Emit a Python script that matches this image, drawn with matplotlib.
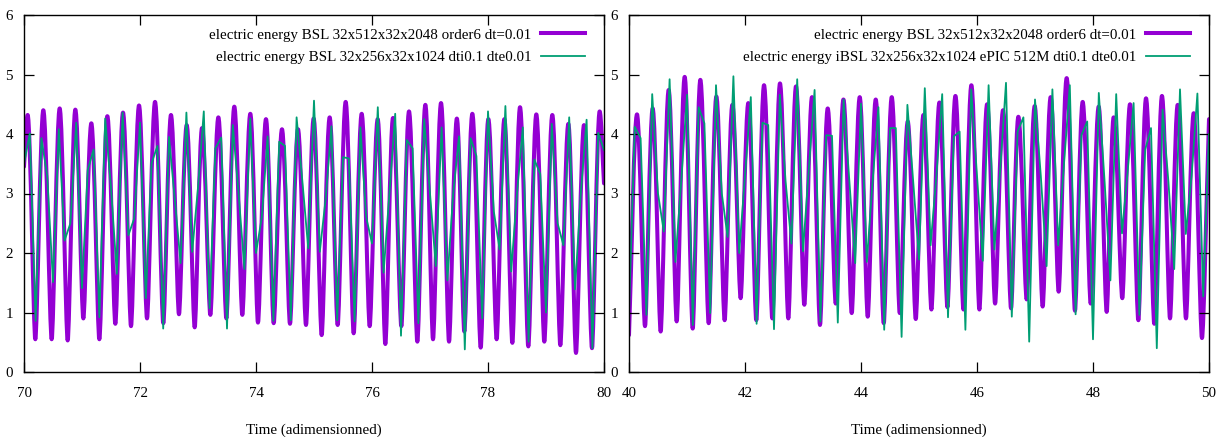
import numpy as np
import matplotlib
matplotlib.use("Agg")
import matplotlib.pyplot as plt
from matplotlib.path import Path
from matplotlib.patches import PathPatch
from matplotlib.lines import Line2D

plt.rcParams['font.family'] = ['Liberation Serif', 'DejaVu Serif']

# ---------------- data ----------------
label_ref = "electric energy BSL 32x512x32x2048 order6 dt=0.01"
label_left = "electric energy BSL 32x256x32x1024 dti0.1 dte0.01"
label_right = "electric energy iBSL 32x256x32x1024 ePIC 512M dti0.1 dte0.01"
x_label = "Time (adimensionned)"

left_xticks = [70, 72, 74, 76, 78, 80]
right_xticks = [40, 42, 44, 46, 48, 50]
yticks = [0, 1, 2, 3, 4, 5, 6]

# reference run (dt=0.01): turning points (time, value)
left_ref_t = [70.0, 70.063, 70.195, 70.333, 70.477, 70.615, 70.753, 70.885, 71.023, 71.161,
              71.299, 71.437, 71.575, 71.707, 71.845, 71.983, 72.121, 72.259, 72.402, 72.534,
              72.672, 72.805, 72.943, 73.069, 73.213, 73.351, 73.489, 73.626, 73.764, 73.902,
              74.034, 74.172, 74.305, 74.448, 74.586, 74.724, 74.862, 74.994, 75.132, 75.270,
              75.408, 75.546, 75.684, 75.822, 75.960, 76.098, 76.230, 76.362, 76.506, 76.638,
              76.782, 76.920, 77.052, 77.190, 77.328, 77.463, 77.592, 77.730, 77.874, 78.006,
              78.149, 78.282, 78.420, 78.552, 78.695, 78.833, 78.971, 79.109, 79.247, 79.385,
              79.517, 79.655, 79.793, 79.925, 80.0]
left_ref_v = [3.45, 4.32, 0.55, 4.40, 0.55, 4.43, 0.53, 4.41, 0.90, 4.18,
              0.55, 4.30, 0.81, 4.36, 0.77, 4.48, 0.90, 4.54, 0.82, 4.32,
              0.97, 4.15, 0.75, 4.10, 0.96, 4.28, 0.90, 4.46, 0.96, 4.34,
              0.83, 4.25, 0.82, 4.08, 0.81, 4.08, 0.79, 4.26, 0.62, 4.28,
              0.79, 4.54, 0.65, 4.34, 0.77, 4.25, 0.47, 4.27, 0.77, 4.38,
              0.51, 4.49, 0.55, 4.52, 0.51, 4.26, 0.68, 4.34, 0.41, 4.25,
              0.55, 4.25, 0.49, 4.45, 0.43, 4.33, 0.51, 4.32, 0.45, 4.17,
              0.32, 4.15, 0.40, 4.38, 3.17]

right_ref_t = [40.0, 40.138, 40.276, 40.408, 40.546, 40.684, 40.822, 40.960, 41.098, 41.230,
               41.374, 41.506, 41.649, 41.782, 41.925, 42.057, 42.195, 42.328, 42.471, 42.603,
               42.747, 42.879, 43.023, 43.155, 43.293, 43.426, 43.564, 43.697, 43.840, 43.978,
               44.116, 44.254, 44.392, 44.530, 44.668, 44.806, 44.944, 45.076, 45.214, 45.352,
               45.490, 45.628, 45.766, 45.903, 46.041, 46.174, 46.312, 46.449, 46.587, 46.713,
               46.856, 46.995, 47.132, 47.270, 47.408, 47.546, 47.689, 47.822, 47.960, 48.098,
               48.236, 48.356, 48.505, 48.638, 48.782, 48.914, 49.057, 49.189, 49.328, 49.460,
               49.603, 49.736, 49.879, 50.0]
right_ref_v = [0.62, 4.33, 0.77, 4.43, 0.68, 4.74, 0.85, 4.96, 0.73, 4.91,
               0.82, 4.63, 0.87, 4.49, 1.24, 4.52, 0.87, 4.82, 0.90, 4.85,
               0.90, 4.80, 1.13, 4.62, 0.79, 4.43, 1.15, 4.58, 0.99, 4.62,
               0.93, 4.58, 0.82, 4.62, 0.99, 4.21, 0.89, 4.32, 1.05, 4.53,
               1.09, 4.64, 1.05, 4.82, 1.05, 4.50, 1.15, 4.40, 1.07, 4.29,
               1.22, 4.47, 1.10, 4.62, 1.35, 4.94, 1.03, 4.54, 1.15, 4.46,
               1.01, 4.28, 1.24, 4.50, 0.87, 4.60, 0.81, 4.64, 0.90, 4.49,
               0.90, 4.35, 0.57, 4.25]

# coarse runs, sampled every 0.1
left_cmp_t = np.linspace(70.0, 80.0, 101)
left_cmp_v = [3.50, 4.01, 0.86, 3.93, 3.30, 1.51, 4.08, 2.21, 2.50, 4.19,
              1.41, 3.40, 3.74, 0.92, 4.26, 3.10, 1.65, 4.36, 2.30, 2.58,
              4.19, 1.24, 3.51, 3.80, 0.73, 3.95, 2.90, 1.83, 4.36, 2.02,
              3.10, 4.38, 1.07, 3.76, 3.94, 0.73, 4.15, 3.00, 1.73, 4.26,
              2.00, 2.60, 3.96, 0.86, 3.87, 3.80, 0.87, 4.28, 3.20, 2.08,
              4.56, 2.02, 2.90, 4.13, 0.87, 3.61, 3.59, 0.85, 4.11, 2.60,
              2.16, 4.45, 1.67, 3.00, 4.34, 0.61, 3.90, 3.76, 0.82, 4.25,
              3.00, 1.78, 4.11, 1.54, 3.00, 3.96, 0.38, 3.93, 3.63, 0.90,
              4.38, 2.70, 2.06, 4.47, 1.69, 3.00, 4.11, 0.51, 3.57, 3.33,
              1.00, 4.17, 2.50, 2.13, 4.28, 1.39, 3.00, 4.24, 0.40, 4.02,
              3.73]

right_cmp_t = np.linspace(40.0, 50.0, 101)
right_cmp_v = [1.00, 4.12, 3.93, 0.96, 4.67, 3.00, 2.36, 4.92, 1.85, 3.20,
               4.66, 0.79, 4.45, 4.18, 0.99, 4.82, 3.00, 2.27, 4.97, 2.00,
               3.30, 4.62, 0.81, 4.19, 4.15, 0.72, 4.66, 3.20, 2.16, 4.92,
               2.03, 3.40, 4.74, 0.85, 3.98, 3.97, 0.83, 4.58, 3.20, 1.83,
               4.51, 1.85, 3.20, 4.45, 0.71, 4.10, 4.10, 0.59, 4.49, 3.20,
               1.89, 4.77, 2.13, 3.30, 4.67, 0.92, 3.96, 4.04, 0.71, 4.75,
               3.30, 1.87, 4.82, 2.06, 3.40, 4.86, 0.93, 4.04, 4.28, 0.51,
               4.58, 3.30, 1.78, 4.75, 2.13, 3.50, 4.82, 0.97, 3.98, 4.21,
               0.55, 4.69, 3.20, 1.54, 4.67, 2.33, 3.40, 4.52, 0.96, 3.74,
               4.10, 0.40, 4.41, 3.20, 1.73, 4.75, 2.32, 3.30, 4.68, 1.27,
               4.00]

# ---------------- style ----------------
PURPLE = "#9400d3"
GREEN = "#009e73"
FS = 10.8


def turning_path(ts, vs, peak_k=0.36, trough_k=0.24):
    """Smooth Bezier path through the listed turning points (horizontal tangents)."""
    n = len(ts)

    def kind(i):
        if i == 0 or i == n - 1:
            return None
        if vs[i] > vs[i - 1] and vs[i] > vs[i + 1]:
            return "peak"
        if vs[i] < vs[i - 1] and vs[i] < vs[i + 1]:
            return "trough"
        return None

    verts = [(ts[0], vs[0])]
    codes = [Path.MOVETO]
    for i in range(n - 1):
        t0, v0, t1, v1 = ts[i], vs[i], ts[i + 1], vs[i + 1]
        d = t1 - t0
        k0, k1 = kind(i), kind(i + 1)
        if k0 is None:
            c1 = (t0 + d / 3, v0 + (v1 - v0) / 3)
        else:
            a = peak_k if k0 == "peak" else trough_k
            c1 = (t0 + a * d, v0)
        if k1 is None:
            c2 = (t1 - d / 3, v1 - (v1 - v0) / 3)
        else:
            a = peak_k if k1 == "peak" else trough_k
            c2 = (t1 - a * d, v1)
        verts += [c1, c2, (t1, v1)]
        codes += [Path.CURVE4, Path.CURVE4, Path.CURVE4]
    return Path(verts, codes)


W, H = 1224, 437
fig = plt.figure(figsize=(W / 100, H / 100), dpi=100)

panels = [
    (24, left_ref_t, left_ref_v, left_cmp_t, left_cmp_v, label_left, left_xticks),
    (629, right_ref_t, right_ref_v, right_cmp_t, right_cmp_v, label_right, right_xticks),
]

for x0, rt, rv, ct, cv, lab, xt in panels:
    ax = fig.add_axes([x0 / W, 65 / H, 580 / W, 357 / H])
    patch = PathPatch(turning_path(rt, rv), facecolor="none", edgecolor=PURPLE,
                      linewidth=2.9, capstyle="round", joinstyle="round")
    ax.add_patch(patch)
    ax.plot(ct, cv, color=GREEN, linewidth=1.3)
    ax.set_xlim(xt[0], xt[-1])
    ax.set_ylim(0, 6)
    ax.set_xticks(xt)
    ax.set_yticks(yticks)
    ax.tick_params(direction="in", length=7, width=0.9, top=True, right=True,
                   labelsize=FS, pad=8)
    ax.tick_params(axis="x", pad=11)
    for s in ax.spines.values():
        s.set_linewidth(1.0)
    ax.set_xlabel(x_label, fontsize=FS, labelpad=17)
    handles = [Line2D([], [], color=PURPLE, linewidth=2.9),
               Line2D([], [], color=GREEN, linewidth=1.3)]
    ax.legend(handles, [label_ref, lab], loc="upper right", frameon=False,
              markerfirst=False, fontsize=FS, handlelength=2.9, handletextpad=0.65,
              labelspacing=0.6, borderaxespad=0, bbox_to_anchor=(0.977, 0.98))

fig.savefig("out.png", dpi=100)
